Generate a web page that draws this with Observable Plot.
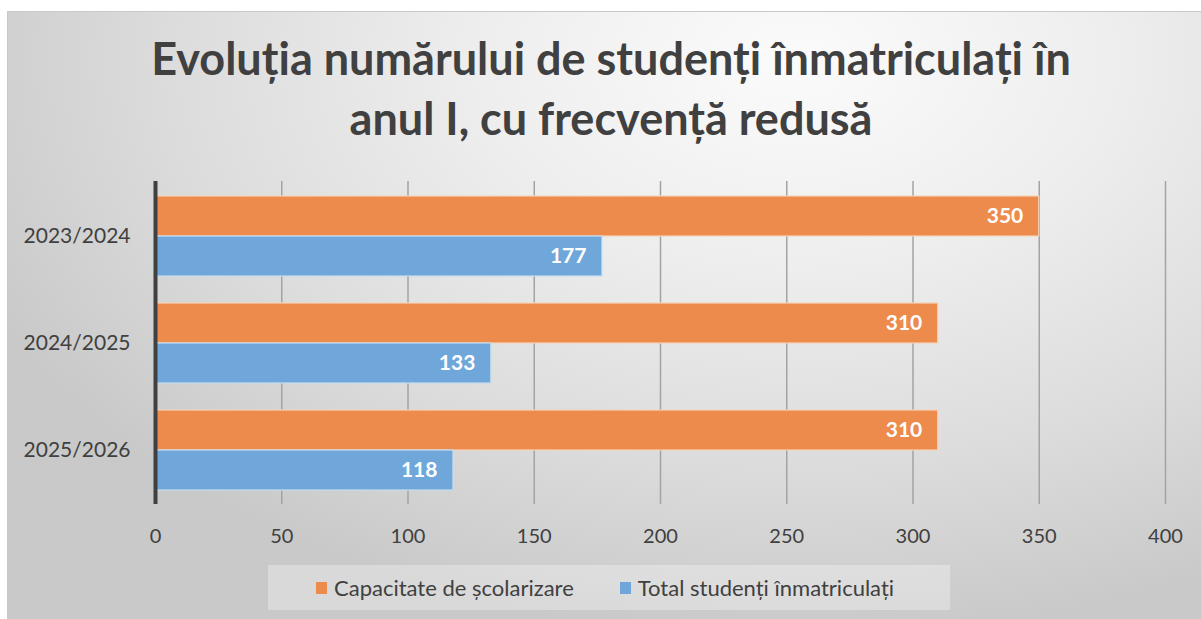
<!DOCTYPE html>
<html>
<head>
<meta charset="utf-8">
<script src="https://cdn.jsdelivr.net/npm/d3@7"></script>
<script src="https://cdn.jsdelivr.net/npm/@observablehq/plot@0.6"></script>
<style>
  html, body { margin: 0; padding: 0; background: #ffffff; }
  #frame {
    position: absolute; left: 7px; top: 11px; width: 1194px; height: 608px;
    border-top: 1px solid #c8c8c8; border-left: 1px solid #c8c8c8;
    background: radial-gradient(ellipse 75% 95% at 66% 8%, #fbfbfb 0%, #eeeeee 35%, #dcdcdc 70%, #c9c9c9 100%);
  }
  #title {
    position: absolute; left: 11px; top: 28px; width: 1200px; text-align: center;
    font-family: Lato, "Open Sans", sans-serif; font-weight: 700; font-size: 45px;
    line-height: 60px; color: #404040;
  }
  #plot { position: absolute; left: 0; top: 160px; }
  #legend {
    position: absolute; left: 268px; top: 565px; width: 682px; height: 45px;
    background: rgba(255,255,255,0.3); display: flex; align-items: center;
    font-family: Lato, "Open Sans", sans-serif; font-size: 22px; color: #404040;
    box-sizing: border-box; padding-left: 48px;
  }
  .sw { display: inline-block; width: 11px; height: 12px; margin-right: 7px; }
  .item { display: flex; align-items: center; margin-right: 46px; }
</style>
</head>
<body>
<div id="frame"></div>
<div id="title">Evoluția numărului de studenți înmatriculați în<br>anul I, cu frecvență redusă</div>
<div id="plot"></div>
<div id="legend"></div>
<script>
const years = ["2023/2024", "2024/2025", "2025/2026"];
const capacity = [350, 310, 310];
const enrolled = [177, 133, 118];
const seriesNames = ["Capacitate de școlarizare", "Total studenți înmatriculați"];
const seriesColors = ["#ed8b4c", "#70a7da"];
const xTicks = [0, 50, 100, 150, 200, 250, 300, 350, 400];

const capData = years.map((y, i) => ({year: y, value: capacity[i]}));
const totData = years.map((y, i) => ({year: y, value: enrolled[i]}));

const half = 40;
const chart = Plot.plot({
  width: 1201,
  height: 400,
  marginLeft: 155,
  marginRight: 36,
  marginTop: 21,
  marginBottom: 56,
  style: {background: "transparent", fontFamily: "Lato, 'Open Sans', sans-serif", fontSize: "20px", color: "#404040"},
  x: {domain: [0, 400], ticks: xTicks, tickSize: 0, tickPadding: 24, label: null},
  y: {domain: years, paddingInner: 0.257, paddingOuter: 0.1285, tickSize: 0, tickPadding: 25, label: null},
  marks: [
    Plot.ruleX(xTicks.filter(d => d > 0), {stroke: "#a3a3a3", strokeWidth: 1.5}),
    Plot.barX(capData, {x: "value", y: "year", fill: seriesColors[0], insetBottom: half, stroke: "#f7d3b8", strokeWidth: 1.2}),
    Plot.barX(totData, {x: "value", y: "year", fill: seriesColors[1], insetTop: half, stroke: "#c6dcf1", strokeWidth: 1.2}),
    Plot.text(capData, {x: "value", y: "year", text: d => String(d.value), textAnchor: "end", dx: -16, dy: -20, fill: "white", fontWeight: "bold", fontSize: 21}),
    Plot.text(totData, {x: "value", y: "year", text: d => String(d.value), textAnchor: "end", dx: -16, dy: 20, fill: "white", fontWeight: "bold", fontSize: 21}),
    Plot.ruleX([0], {stroke: "#404040", strokeWidth: 4}),
    Plot.axisX({ticks: xTicks, tickSize: 0, tickPadding: 24, fill: "#404040", fontSize: 20}),
    Plot.axisY({tickSize: 0, tickPadding: 25, fill: "#404040", fontSize: 21})
  ]
});
document.getElementById("plot").appendChild(chart);

const legend = document.getElementById("legend");
seriesNames.forEach((name, i) => {
  const item = document.createElement("div");
  item.className = "item";
  const sw = document.createElement("span");
  sw.className = "sw";
  sw.style.background = seriesColors[i];
  item.appendChild(sw);
  item.appendChild(document.createTextNode(name));
  legend.appendChild(item);
});
</script>
</body>
</html>
